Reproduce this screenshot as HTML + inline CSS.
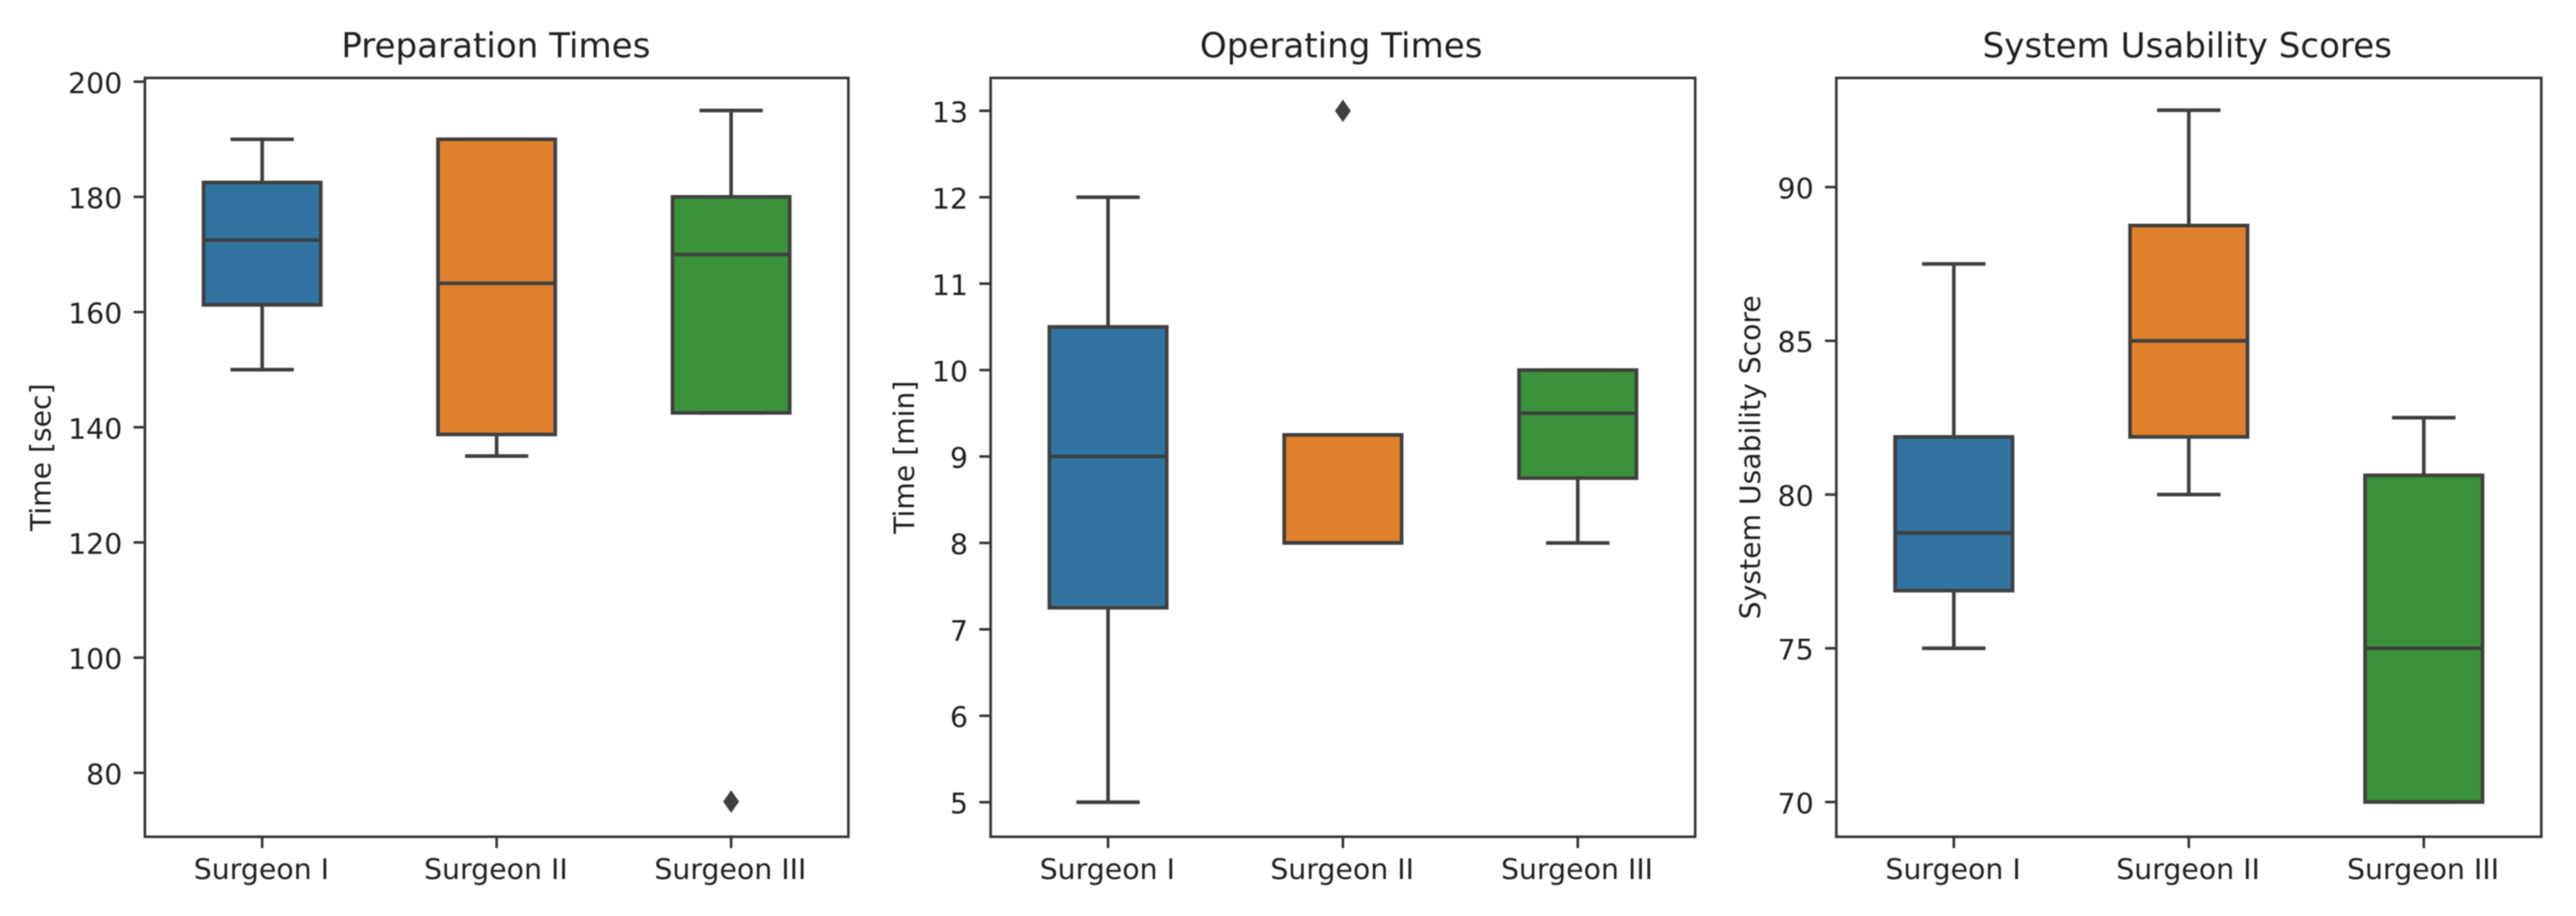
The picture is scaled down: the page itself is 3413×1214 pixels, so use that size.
<!DOCTYPE html>
<html lang="en">
<head>
<meta charset="utf-8">
<title>Surgeon Box Plots</title>
<style>
html,body{margin:0;padding:0;background:#fff;width:3413px;height:1214px;overflow:hidden}
svg{display:block;filter:blur(0.7px)}
text{font-family:"DejaVu Sans","Liberation Sans",sans-serif;fill:#1f1f1f}
.title{font-size:45.2px;text-anchor:middle}
.ylabel{font-size:37.4px;text-anchor:middle}
.tick{font-size:37.6px}
</style>
</head>
<body>
<svg id="chart" xmlns="http://www.w3.org/2000/svg" width="3413" height="1214" viewBox="0 0 3413 1214">
  <rect width="3413" height="1214" fill="#ffffff"/>
  <g id="panel-prep">
    <text class="title" x="657" y="76">Preparation Times</text>
    <text class="ylabel" transform="translate(67 606) rotate(-90)">Time [sec]</text>
  </g>
  <g id="panel-op">
    <text class="title" x="1777" y="76">Operating Times</text>
    <text class="ylabel" transform="translate(1211 606) rotate(-90)">Time [min]</text>
  </g>
  <g id="panel-sus">
    <text class="title" x="2898" y="76">System Usability Scores</text>
    <text class="ylabel" transform="translate(2332 606) rotate(-90)">System Usability Score</text>
  </g>
</svg>
<script>
// Shared categories and box colours
var categories = ["Surgeon I", "Surgeon II", "Surgeon III"];
var boxColors = ["#3274a1", "#e1812c", "#3a923a"];

// Preparation times [sec]
var prepWhiskerLow = [150, 135, 142.5];
var prepQ1 = [161.25, 138.75, 142.5];
var prepMedian = [172.5, 165, 170];
var prepQ3 = [182.5, 190, 180];
var prepWhiskerHigh = [190, 190, 195];
var prepOutliers = [[], [], [75]];
var prepTicks = [80, 100, 120, 140, 160, 180, 200];
var prepYMin = 68.9;
var prepYMax = 200.65;

// Operating times [min]
var opWhiskerLow = [5, 8, 8];
var opQ1 = [7.25, 8, 8.75];
var opMedian = [9, 8, 9.5];
var opQ3 = [10.5, 9.25, 10];
var opWhiskerHigh = [12, 9.25, 10];
var opOutliers = [[], [13], []];
var opTicks = [5, 6, 7, 8, 9, 10, 11, 12, 13];
var opYMin = 4.6;
var opYMax = 13.38;

// System usability scores
var susWhiskerLow = [75, 80, 70];
var susQ1 = [76.875, 81.875, 70];
var susMedian = [78.75, 85, 75];
var susQ3 = [81.875, 88.75, 80.625];
var susWhiskerHigh = [87.5, 92.5, 82.5];
var susOutliers = [[], [], []];
var susTicks = [70, 75, 80, 85, 90];
var susYMin = 68.87;
var susYMax = 93.55;

var SVGNS = "http://www.w3.org/2000/svg";
var LINE = "#3f3f3f";
var AXIS = "#333333";
var AXES_TOP = 103.3;
var AXES_BOTTOM = 1109;

function make(tag, parent, attrs) {
  var el = document.createElementNS(SVGNS, tag);
  for (var k in attrs) { el.setAttribute(k, attrs[k]); }
  parent.appendChild(el);
  return el;
}

function drawLine(parent, x1, y1, x2, y2, color, width, name) {
  var el = make("line", parent, {x1: x1, y1: y1, x2: x2, y2: y2, stroke: color, "stroke-width": width});
  
  
  return el;
}

function drawPanel(groupId, left, right, yMin, yMax, ticks, low, q1, med, q3, high, outliers) {
  var g = document.getElementById(groupId);
  var xScale = function (i) { return left + (i + 0.5) / categories.length * (right - left); };
  var yScale = function (v) { return AXES_BOTTOM - (v - yMin) / (yMax - yMin) * (AXES_BOTTOM - AXES_TOP); };
  var step = (right - left) / categories.length;
  var boxHalf = step * 0.25;
  var capHalf = step * 0.135;
  var LW = 4.8;

  categories.forEach(function (cat, i) {
    var x = xScale(i);
    var key = cat.toLowerCase().replace(/\s+/g, "-");
    drawLine(g, x, yScale(q1[i]), x, yScale(low[i]), LINE, LW, key + "-lower-whisker");
    drawLine(g, x, yScale(q3[i]), x, yScale(high[i]), LINE, LW, key + "-upper-whisker");
    drawLine(g, x - capHalf, yScale(low[i]), x + capHalf, yScale(low[i]), LINE, LW, key + "-lower-cap");
    drawLine(g, x - capHalf, yScale(high[i]), x + capHalf, yScale(high[i]), LINE, LW, key + "-upper-cap");

    var box = make("rect", g, {
      x: x - boxHalf,
      y: yScale(q3[i]),
      width: boxHalf * 2,
      height: yScale(q1[i]) - yScale(q3[i]),
      fill: boxColors[i],
      stroke: LINE,
      "stroke-width": LW
    });
    
    

    drawLine(g, x - boxHalf, yScale(med[i]), x + boxHalf, yScale(med[i]), LINE, LW, key + "-median");

    outliers[i].forEach(function (v) {
      var oy = yScale(v);
      var marker = make("polygon", g, {
        points: x + "," + (oy - 15) + " " + (x + 10.5) + "," + oy + " " + x + "," + (oy + 15) + " " + (x - 10.5) + "," + oy,
        fill: LINE
      });
      
      
    });

    drawLine(g, x, AXES_BOTTOM, x, AXES_BOTTOM + 15, AXIS, 3.4, key + "-x-tick");
    var label = make("text", g, {"class": "tick", x: x - 1, y: 1165, "text-anchor": "middle"});
    
    
    label.textContent = cat;
  });

  ticks.forEach(function (t) {
    var y = yScale(t);
    drawLine(g, left - 15, y, left, y, AXIS, 3.4, "y-tick-" + t);
    var label = make("text", g, {"class": "tick", x: left - 30, y: y + 15, "text-anchor": "end"});
    
    
    label.textContent = t;
  });

  var frame = make("rect", g, {
    x: left,
    y: AXES_TOP,
    width: right - left,
    height: AXES_BOTTOM - AXES_TOP,
    fill: "none",
    stroke: AXIS,
    "stroke-width": 3.4
  });
  
  
}

drawPanel("panel-prep", 192, 1124, prepYMin, prepYMax, prepTicks, prepWhiskerLow, prepQ1, prepMedian, prepQ3, prepWhiskerHigh, prepOutliers);
drawPanel("panel-op", 1312.5, 2246, opYMin, opYMax, opTicks, opWhiskerLow, opQ1, opMedian, opQ3, opWhiskerHigh, opOutliers);
drawPanel("panel-sus", 2433, 3367, susYMin, susYMax, susTicks, susWhiskerLow, susQ1, susMedian, susQ3, susWhiskerHigh, susOutliers);
</script>
</body>
</html>
